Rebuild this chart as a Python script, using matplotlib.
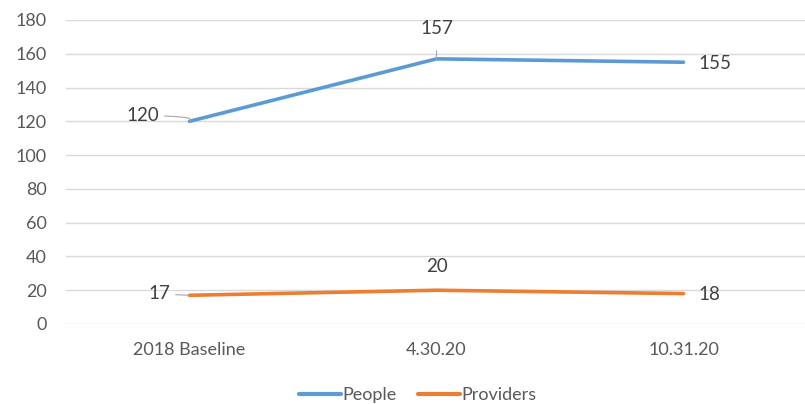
import matplotlib
matplotlib.use("Agg")
import matplotlib.pyplot as plt

categories = ["2018 Baseline", "4.30.20", "10.31.20"]
people = [120, 157, 155]
providers = [17, 20, 18]
yticks = [0, 20, 40, 60, 80, 100, 120, 140, 160, 180]

plt.rcParams['font.family'] = ['Lato', 'DejaVu Sans']
grey = "#595959"

fig = plt.figure(figsize=(8.05, 4.04), dpi=100)
ax = fig.add_axes([66/805, 1-324/404, 741/805, 304/404])

x = list(range(len(categories)))
ax.plot(x, people, color="#5B9BD5", lw=2.6, solid_capstyle="round", label="People", zorder=3)
ax.plot(x, providers, color="#ED7D31", lw=2.6, solid_capstyle="round", label="Providers", zorder=3)

ax.set_xlim(-0.5, 2.5)
ax.set_ylim(0, 180)
ax.set_yticks(yticks)
ax.set_xticks(x)
ax.set_xticklabels(categories)
ax.grid(axis="y", color="#d9d9d9", lw=1)
ax.set_axisbelow(True)
for s in ax.spines.values():
    s.set_visible(False)
ax.tick_params(axis="both", length=0, labelsize=13, colors=grey, labelcolor=grey)
ax.tick_params(axis="y", pad=14)
ax.tick_params(axis="x", pad=13)

fs = 13.5
lc = "#404040"
# People labels
ax.annotate(str(people[0]), xy=(x[0], people[0]), xytext=(-22, 4), textcoords="offset points",
            ha="right", va="center", fontsize=fs, color=lc,
            arrowprops=dict(arrowstyle="-", color="#a6a6a6", lw=0.8,
                            connectionstyle="angle3,angleA=0,angleB=30", shrinkA=2, shrinkB=0))
ax.annotate(str(people[1]), xy=(x[1], people[1]), xytext=(0, 22), textcoords="offset points",
            ha="center", va="center", fontsize=fs, color=lc,
            arrowprops=dict(arrowstyle="-", color="#a6a6a6", lw=0.8, shrinkA=8, shrinkB=0))
ax.annotate(str(people[2]), xy=(x[2], people[2]), xytext=(11, -1), textcoords="offset points",
            ha="left", va="center", fontsize=fs, color=lc)
# Providers labels
ax.annotate(str(providers[0]), xy=(x[0], providers[0]), xytext=(-14, 1), textcoords="offset points",
            ha="right", va="center", fontsize=fs, color=lc,
            arrowprops=dict(arrowstyle="-", color="#a6a6a6", lw=0.8, shrinkA=2, shrinkB=0))
ax.annotate(str(providers[1]), xy=(x[1], providers[1]), xytext=(0, 17), textcoords="offset points",
            ha="center", va="center", fontsize=fs, color=lc)
ax.annotate(str(providers[2]), xy=(x[2], providers[2]), xytext=(11, -1), textcoords="offset points",
            ha="left", va="center", fontsize=fs, color=lc)

leg = fig.legend(loc="center", bbox_to_anchor=(418/805, 1-395/404), ncol=2, frameon=False,
                 fontsize=13, handlelength=2.3, handletextpad=0.1, columnspacing=1.2,
                 labelcolor=grey)
for h in leg.get_lines():
    h.set_linewidth(3)

fig.savefig("out.png", dpi=100)
